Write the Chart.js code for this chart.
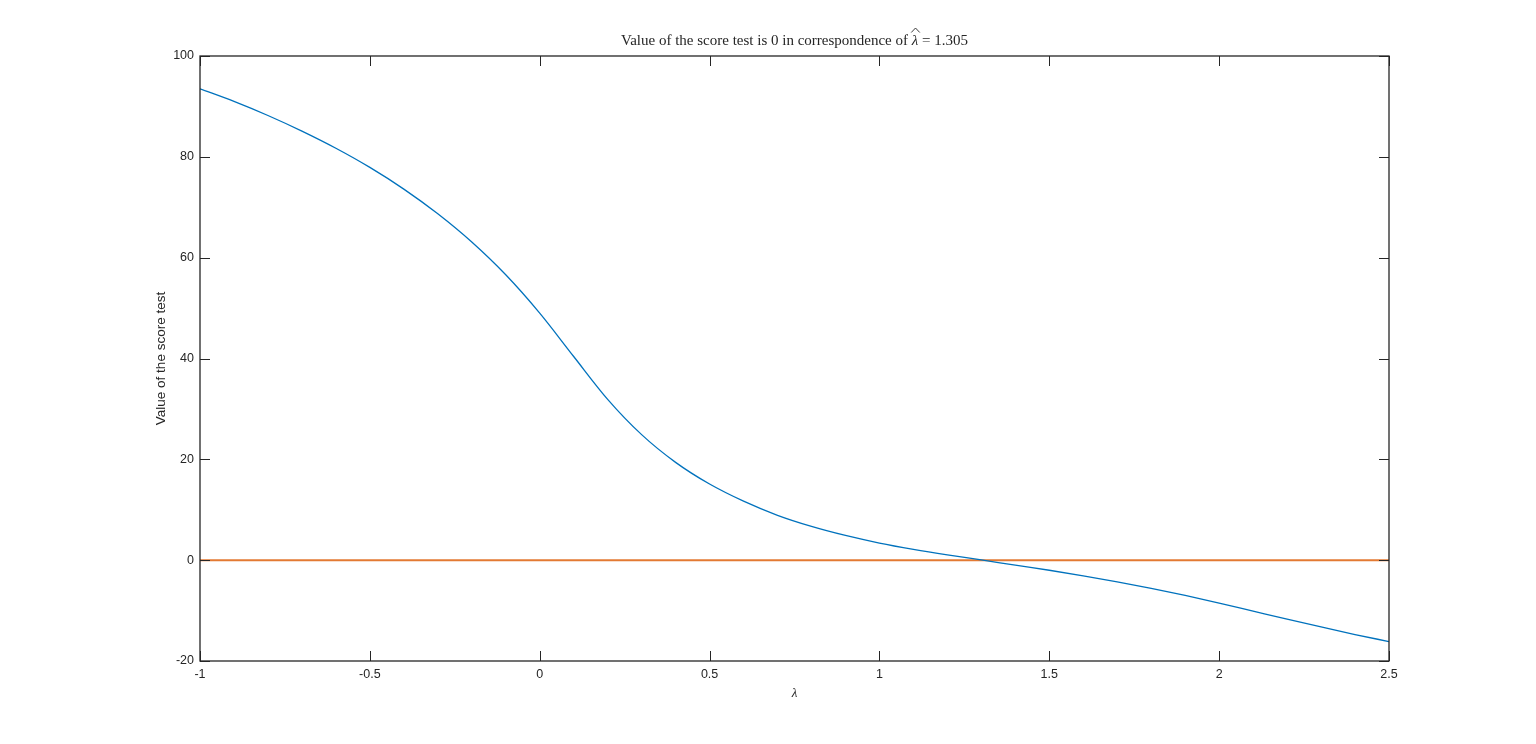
<!DOCTYPE html>
<html>
<head>
<meta charset="utf-8">
<script src="https://cdn.jsdelivr.net/npm/chart.js@4"></script>
<style>
  html, body { margin: 0; padding: 0; background: #fff; }
  #wrap { width: 1536px; height: 744px; }
</style>
</head>
<body>
<div id="wrap"><canvas id="scoreChart"></canvas></div>
<script>
// values
const lambdaValues = [-1.0, -0.9, -0.8, -0.7, -0.6, -0.5, -0.4, -0.3, -0.2, -0.1,
  0.0, 0.1, 0.2, 0.3, 0.4, 0.5, 0.6, 0.7, 0.8, 0.9,
  1.0, 1.1, 1.2, 1.3, 1.4, 1.5, 1.6, 1.7, 1.8, 1.9,
  2.0, 2.1, 2.2, 2.3, 2.4, 2.5];
const scoreValues = [93.5, 91.0, 88.2, 85.1, 81.7, 77.9, 73.6, 68.7, 63.1, 56.6,
  49.0, 40.4, 31.9, 24.9, 19.4, 15.1, 11.7, 8.9, 6.7, 4.9,
  3.4, 2.15, 1.05, 0.05, -1.0, -2.0, -3.1, -4.3, -5.6, -7.0,
  -8.5, -10.1, -11.7, -13.25, -14.75, -16.15];
const zeroLambda = [-1, 2.5];
const zeroValues = [0, 0];
const xTicks = [-1, -0.5, 0, 0.5, 1, 1.5, 2, 2.5];
const yTicks = [-20, 0, 20, 40, 60, 80, 100];
const titleStart = "Value of the score test is 0 in correspondence of ";
const titleSymbol = "\u03BB";
const titleEnd = " = 1.305";

const textColor = "#262626";

// inward tick marks on all four sides plus the box
const boxTicks = {
  id: "boxTicks",
  afterDraw(chart) {
    const ctx = chart.ctx;
    const a = chart.chartArea;
    const xs = chart.scales.x, ys = chart.scales.y;
    const len = 10;
    ctx.save();
    ctx.strokeStyle = "#262626";
    ctx.lineWidth = 1;
    ctx.beginPath();
    xTicks.forEach(v => {
      const px = Math.round(xs.getPixelForValue(v)) + 0.5;
      ctx.moveTo(px, a.bottom); ctx.lineTo(px, a.bottom - len);
      ctx.moveTo(px, a.top); ctx.lineTo(px, a.top + len);
    });
    yTicks.forEach(v => {
      const py = Math.round(ys.getPixelForValue(v)) + 0.5;
      ctx.moveTo(a.left, py); ctx.lineTo(a.left + len, py);
      ctx.moveTo(a.right, py); ctx.lineTo(a.right - len, py);
    });
    ctx.stroke();
    ctx.lineWidth = 1.3;
    ctx.strokeRect(a.left, a.top, a.right - a.left, a.bottom - a.top);
    ctx.restore();
  }
};

// title centred over the axes, with a hat over lambda
const axesTitle = {
  id: "axesTitle",
  afterDraw(chart) {
    const ctx = chart.ctx;
    const a = chart.chartArea;
    const plain = "15px 'Liberation Serif', 'Times New Roman', serif";
    const ital = "italic 15px 'Liberation Serif', 'Times New Roman', serif";
    ctx.save();
    ctx.fillStyle = textColor;
    ctx.textBaseline = "middle";
    ctx.font = plain;
    const w1 = ctx.measureText(titleStart).width;
    const w3 = ctx.measureText(titleEnd).width;
    ctx.font = ital;
    const w2 = ctx.measureText(titleSymbol).width;
    let x = (a.left + a.right) / 2 - (w1 + w2 + w3) / 2;
    const y = 41;
    ctx.font = plain;
    ctx.fillText(titleStart, x, y);
    x += w1;
    ctx.font = ital;
    ctx.fillText(titleSymbol, x, y);
    // wide hat
    ctx.strokeStyle = textColor;
    ctx.lineWidth = 0.9;
    ctx.beginPath();
    ctx.moveTo(x - 0.5, 32.5);
    ctx.lineTo(x + w2 / 2 + 0.5, 28);
    ctx.lineTo(x + w2 + 1.5, 32.5);
    ctx.stroke();
    x += w2;
    ctx.font = plain;
    ctx.fillText(titleEnd, x, y);
    ctx.restore();
  }
};

new Chart(document.getElementById("scoreChart"), {
  type: "line",
  data: {
    datasets: [{
      data: lambdaValues.map((x, i) => ({ x: x, y: scoreValues[i] })),
      borderColor: "#0072BD",
      borderWidth: 1.3,
      pointRadius: 0,
      cubicInterpolationMode: "monotone",
      fill: false
    }, {
      data: zeroLambda.map((x, i) => ({ x: x, y: zeroValues[i] })),
      borderColor: "#E37A33",
      borderWidth: 2,
      pointRadius: 0,
      fill: false
    }]
  },
  options: {
    responsive: true,
    maintainAspectRatio: false,
    animation: false,
    layout: { padding: { left: 150, right: 147, top: 56, bottom: 43 } },
    plugins: {
      legend: { display: false },
      tooltip: { enabled: false },
      title: { display: false }
    },
    scales: {
      x: {
        type: "linear",
        min: -1,
        max: 2.5,
        afterBuildTicks: s => { s.ticks = xTicks.map(v => ({ value: v })); },
        afterFit: s => { s.height = 40; },
        grid: { display: false, drawTicks: false },
        border: { display: false },
        ticks: {
          color: textColor,
          padding: 6,
          callback: v => String(v),
          font: { family: "'Liberation Sans', Arial, sans-serif", size: 12.5 }
        },
        title: {
          display: true,
          text: "\u03BB",
          color: textColor,
          padding: { top: 1, bottom: 0 },
          font: { family: "'Liberation Serif', serif", size: 13, style: "italic" }
        }
      },
      y: {
        type: "linear",
        min: -20,
        max: 100,
        afterBuildTicks: s => { s.ticks = yTicks.map(v => ({ value: v })); },
        afterFit: s => { s.width = 50; },
        grid: { display: false, drawTicks: false },
        border: { display: false },
        ticks: {
          color: textColor,
          padding: 6,
          callback: v => String(v),
          font: { family: "'Liberation Sans', Arial, sans-serif", size: 12.5 }
        },
        title: {
          display: true,
          text: "Value of the score test",
          color: textColor,
          padding: { top: 3, bottom: 0 },
          font: { family: "'Liberation Sans', Arial, sans-serif", size: 13.5 }
        }
      }
    }
  },
  plugins: [boxTicks, axesTitle]
});
</script>
</body>
</html>
